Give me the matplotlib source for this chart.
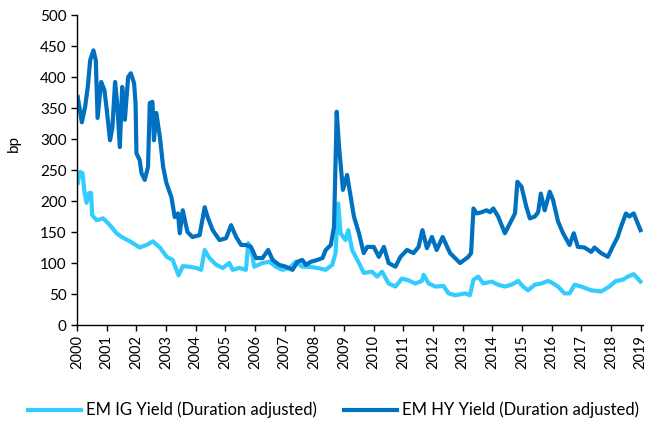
import matplotlib
matplotlib.use("Agg")
import matplotlib.pyplot as plt

plt.rcParams['font.family'] = ['Lato', 'DejaVu Sans']

# Time (fractional year) and spread values in bp
ig_t = [2000.02, 2000.10, 2000.18, 2000.25, 2000.32, 2000.40, 2000.47, 2000.51, 2000.66, 2000.88,
        2001.05, 2001.16, 2001.33, 2001.50, 2001.78, 2002.11, 2002.38, 2002.55, 2002.79, 2003.02,
        2003.22, 2003.42, 2003.56, 2003.79, 2004.02, 2004.18, 2004.30, 2004.46, 2004.69, 2004.91,
        2005.13, 2005.24, 2005.47, 2005.69, 2005.77, 2005.86, 2005.97, 2006.25, 2006.48, 2006.70,
        2006.92, 2007.15, 2007.37, 2007.59, 2007.82, 2008.10, 2008.38, 2008.60, 2008.71, 2008.80,
        2008.88, 2009.05, 2009.14, 2009.27, 2009.50, 2009.66, 2009.94, 2010.11, 2010.28, 2010.50,
        2010.73, 2010.95, 2011.17, 2011.40, 2011.62, 2011.68, 2011.85, 2012.07, 2012.35, 2012.52,
        2012.74, 2013.08, 2013.24, 2013.36, 2013.52, 2013.69, 2013.97, 2014.19, 2014.42, 2014.64,
        2014.87, 2015.03, 2015.20, 2015.43, 2015.65, 2015.87, 2015.98, 2016.21, 2016.43, 2016.60,
        2016.77, 2016.99, 2017.33, 2017.66, 2017.94, 2018.16, 2018.39, 2018.56, 2018.76, 2018.99]
ig_v = [229, 247, 245, 213, 197, 213, 213, 177, 169, 172,
        164, 158, 148, 142, 135, 125, 130, 135, 125, 110,
        105, 80, 95, 94, 92, 89, 121, 108, 97, 92,
        100, 89, 92, 89, 132, 124, 94, 100, 102, 94,
        89, 92, 102, 94, 94, 92, 89, 97, 116, 196,
        148, 137, 153, 121, 100, 84, 86, 78, 86, 67,
        62, 75, 72, 67, 71, 81, 67, 62, 63, 51,
        48, 51, 48, 73, 78, 67, 70, 65, 62, 65,
        71, 62, 56, 65, 67, 71, 69, 62, 51, 51,
        65, 62, 56, 54, 62, 71, 73, 78, 82, 70]

hy_t = [2000.02, 2000.16, 2000.27, 2000.36, 2000.44, 2000.55, 2000.63, 2000.69, 2000.81, 2000.92,
        2001.00, 2001.11, 2001.19, 2001.28, 2001.35, 2001.44, 2001.52, 2001.61, 2001.72, 2001.81,
        2001.92, 2001.97, 2002.00, 2002.11, 2002.17, 2002.28, 2002.39, 2002.45, 2002.54, 2002.59,
        2002.67, 2002.79, 2002.90, 2003.01, 2003.18, 2003.29, 2003.40, 2003.46, 2003.56, 2003.72,
        2003.89, 2004.13, 2004.30, 2004.40, 2004.57, 2004.80, 2005.02, 2005.19, 2005.36, 2005.53,
        2005.69, 2005.86, 2006.03, 2006.25, 2006.44, 2006.59, 2006.81, 2007.04, 2007.26, 2007.43,
        2007.59, 2007.71, 2007.88, 2008.10, 2008.27, 2008.38, 2008.55, 2008.66, 2008.75, 2008.83,
        2008.96, 2009.10, 2009.33, 2009.50, 2009.66, 2009.78, 2010.00, 2010.17, 2010.34, 2010.50,
        2010.73, 2010.90, 2011.12, 2011.34, 2011.51, 2011.64, 2011.79, 2011.96, 2012.12, 2012.32,
        2012.57, 2012.74, 2012.91, 2013.19, 2013.28, 2013.36, 2013.47, 2013.64, 2013.80, 2013.92,
        2014.03, 2014.19, 2014.42, 2014.59, 2014.76, 2014.84, 2014.98, 2015.14, 2015.26, 2015.43,
        2015.54, 2015.63, 2015.76, 2015.93, 2016.04, 2016.21, 2016.38, 2016.60, 2016.74, 2016.88,
        2017.10, 2017.33, 2017.44, 2017.66, 2017.89, 2018.05, 2018.22, 2018.33, 2018.50, 2018.61,
        2018.76, 2018.99]
hy_v = [368, 327, 352, 384, 427, 443, 427, 334, 392, 379,
        347, 298, 319, 392, 358, 287, 384, 331, 400, 406,
        390, 358, 277, 266, 245, 234, 255, 358, 360, 298,
        342, 303, 255, 229, 206, 174, 180, 148, 185, 150,
        142, 145, 190, 174, 153, 137, 140, 161, 142, 129,
        129, 126, 108, 108, 121, 105, 97, 94, 89, 102,
        105, 97, 102, 105, 108, 121, 129, 158, 344, 287,
        218, 242, 175, 148, 116, 126, 126, 110, 126, 100,
        94, 110, 121, 116, 126, 153, 124, 142, 121, 142,
        116, 108, 100, 110, 116, 188, 180, 182, 185, 182,
        188, 175, 148, 164, 180, 231, 223, 191, 172, 175,
        182, 212, 185, 215, 202, 167, 148, 129, 148, 126,
        125, 118, 125, 116, 110, 126, 142, 158, 180, 175,
        180, 153]

y_ticks = list(range(0, 501, 50))
x_ticks = list(range(2000, 2020))

ig_color = '#33CCFF'
hy_color = '#0070C0'

fig = plt.figure(figsize=(6.48, 4.29), dpi=100)
ax = fig.add_axes([0.119, 0.2424, 0.874, 0.7226])

ax.plot(ig_t, ig_v, color=ig_color, lw=3.0, solid_joinstyle='round', label='EM IG Yield (Duration adjusted)')
ax.plot(hy_t, hy_v, color=hy_color, lw=3.0, solid_joinstyle='round', label='EM HY Yield (Duration adjusted)')

ax.set_xlim(2000, 2019.09)
ax.set_ylim(0, 500)
ax.set_yticks(y_ticks)
ax.set_xticks(x_ticks)
ax.set_xticklabels([str(x) for x in x_ticks], rotation=90, fontsize=10.5)
ax.tick_params(axis='y', labelsize=11, direction='out', length=4, width=1)
ax.tick_params(axis='x', direction='out', length=4, width=1, pad=3)
ax.set_ylabel('bp', fontsize=11)
ax.yaxis.set_label_coords(-0.1, 0.587)

for s in ['top', 'right']:
    ax.spines[s].set_visible(False)
for s in ['left', 'bottom']:
    ax.spines[s].set_color('black')
    ax.spines[s].set_linewidth(1)

fig.legend(loc='center', bbox_to_anchor=(0.515, 0.044), ncol=2, frameon=False,
           fontsize=12, handlelength=3.2, handletextpad=0.3, columnspacing=1.6)

fig.savefig('out.png', dpi=100)
